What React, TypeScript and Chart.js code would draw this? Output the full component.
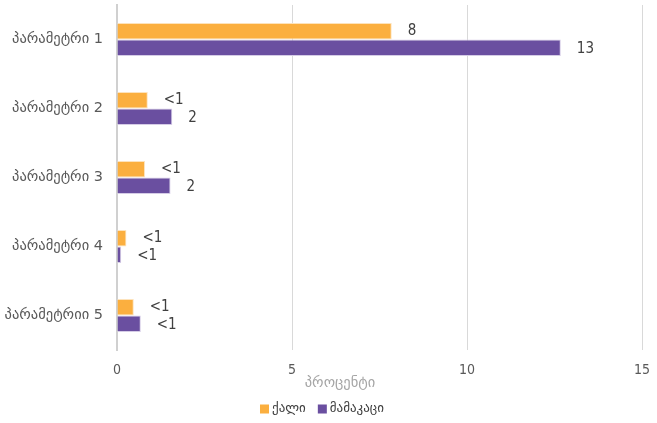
import React, { useEffect, useRef } from "react";
import { Chart, registerables } from "chart.js";

Chart.register(...registerables);

const categories = ["პარამეტრი 1", "პარამეტრი 2", "პარამეტრი 3", "პარამეტრი 4", "პარამეტრიი 5"];
const womenValues = [7.85, 0.88, 0.8, 0.27, 0.48];
const menValues = [12.68, 1.58, 1.53, 0.12, 0.68];
const womenLabels = ["8", "<1", "<1", "<1", "<1"];
const menLabels = ["13", "2", "2", "<1", "<1"];
const seriesNames = ["ქალი", "მამაკაცი"];
const seriesColors = ["#FBAF3F", "#6A4FA0"];
const xTicks = [0, 5, 10, 15];
const axisTitle = "პროცენტი";

const FONT = "'DejaVu Sans', sans-serif";
const NUM_FONT = "'DejaVu Sans Condensed', 'DejaVu Sans', sans-serif";

const labelPlugin = {
  id: "barLabels",
  afterDatasetsDraw(chart: any) {
    const ctx = chart.ctx;
    const all = [womenLabels, menLabels];
    ctx.save();
    ctx.font = `15px ${NUM_FONT}`;
    ctx.fillStyle = "#404040";
    ctx.textAlign = "left";
    ctx.textBaseline = "middle";
    chart.data.datasets.forEach((_: any, di: number) => {
      const meta = chart.getDatasetMeta(di);
      meta.data.forEach((bar: any, i: number) => {
        ctx.fillText(all[di][i], bar.x + 16, bar.y + (di === 1 ? 1 : 0));
      });
    });
    ctx.restore();
  },
  afterDraw(chart: any) {
    const ctx = chart.ctx;
    const area = chart.chartArea;
    ctx.save();
    // axis title
    ctx.font = `14.5px ${FONT}`;
    ctx.fillStyle = "#A6A6A6";
    ctx.textAlign = "center";
    ctx.textBaseline = "middle";
    ctx.fillText(axisTitle, 340, area.bottom + 33);
    // legend
    ctx.font = `13px ${FONT}`;
    ctx.textAlign = "left";
    const box = 9;
    const gapBoxText = 3;
    const gapItems = 12;
    const widths = seriesNames.map((n) => box + gapBoxText + ctx.measureText(n).width);
    const total = widths.reduce((a, b) => a + b, 0) + gapItems * (seriesNames.length - 1);
    let x = 322 - total / 2;
    const y = area.bottom + 59;
    seriesNames.forEach((n, i) => {
      ctx.fillStyle = seriesColors[i];
      ctx.fillRect(x, y - box / 2, box, box);
      ctx.fillStyle = "#404040";
      ctx.fillText(n, x + box + gapBoxText, y);
      x += widths[i] + gapItems;
    });
    ctx.restore();
  },
};

export default function App() {
  const ref = useRef<HTMLCanvasElement>(null);
  useEffect(() => {
    document.body.style.margin = "0";
    const chart = new Chart(ref.current!, {
      type: "bar",
      data: {
        labels: categories,
        datasets: [
          {
            label: seriesNames[0],
            data: womenValues,
            backgroundColor: seriesColors[0],
            borderColor: "#FDE3BC",
            borderWidth: 1,
            categoryPercentage: 0.48,
            barPercentage: 1,
          },
          {
            label: seriesNames[1],
            data: menValues,
            backgroundColor: seriesColors[1],
            borderColor: "#D5CCE6",
            borderWidth: 1,
            categoryPercentage: 0.48,
            barPercentage: 1,
          },
        ],
      },
      options: {
        indexAxis: "y",
        responsive: false,
        animation: false,
        layout: { padding: { top: 5, right: 15, left: 0, bottom: 24 } },
        plugins: {
          legend: { display: false },
          tooltip: { enabled: false },
        },
        scales: {
          x: {
            min: 0,
            max: 15,
            afterBuildTicks(axis: any) {
              axis.ticks = xTicks.map((v) => ({ value: v }));
            },
            afterFit(axis: any) {
              axis.height = 49;
              axis.paddingLeft = 0;
              axis.paddingRight = 0;
            },
            grid: { color: "#D9D9D9", drawTicks: false },
            border: { display: false },
            ticks: {
              color: "#595959",
              padding: 12,
              font: { family: NUM_FONT, size: 14 },
            },
          },
          y: {
            grid: { display: false, drawTicks: false },
            border: { display: true, color: "#D0D0D0", width: 2 },
            afterFit(axis: any) {
              axis.width = 117;
              axis.paddingTop = 0;
              axis.paddingBottom = 0;
            },
            ticks: {
              color: "#595959",
              padding: 14,
              font: { family: FONT, size: 14.5 },
            },
          },
        },
      },
      plugins: [labelPlugin],
    });
    return () => chart.destroy();
  }, []);
  return <canvas ref={ref} width={657} height={423} />;
}
